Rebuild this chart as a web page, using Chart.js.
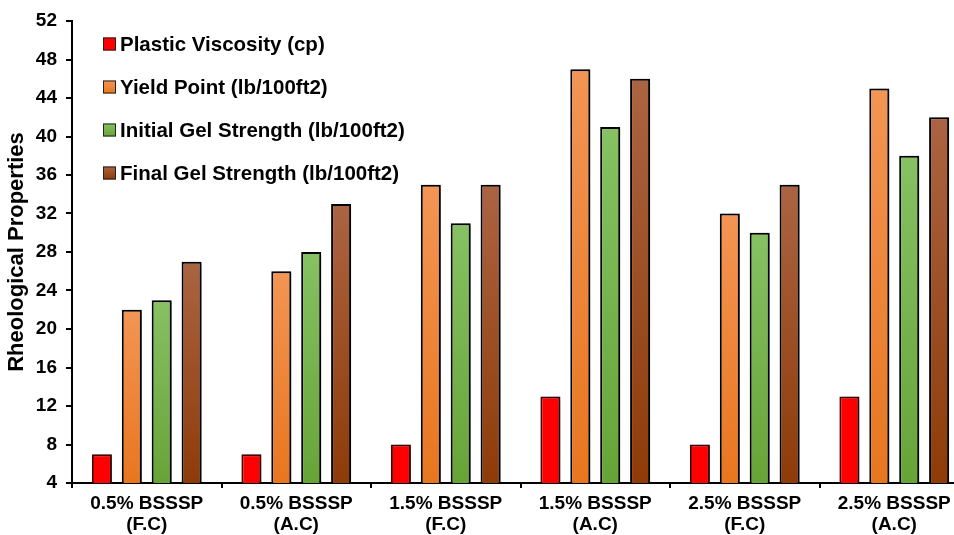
<!DOCTYPE html>
<html>
<head>
<meta charset="utf-8">
<script src="https://cdn.jsdelivr.net/npm/chart.js@4"></script>
<style>
  html, body { margin: 0; padding: 0; background: #fff; overflow: hidden; }
  #wrap { width: 975px; height: 535px; position: relative; }
</style>
</head>
<body>
<div id="wrap"><canvas id="chart"></canvas></div>
<script>
// Drilling fluid samples (BSSSP additive, two curing conditions)
const categories = [
  ["0.5% BSSSP", "(F.C)"],
  ["0.5% BSSSP", "(A.C)"],
  ["1.5% BSSSP", "(F.C)"],
  ["1.5% BSSSP", "(A.C)"],
  ["2.5% BSSSP", "(F.C)"],
  ["2.5% BSSSP", "(A.C)"]
];

const seriesNames = [
  "Plastic Viscosity (cp)",
  "Yield Point (lb/100ft2)",
  "Initial Gel Strength (lb/100ft2)",
  "Final Gel Strength (lb/100ft2)"
];

const plasticViscosity   = [7, 7, 8, 13, 8, 13];
const yieldPoint         = [22, 26, 35, 47, 32, 45];
const initialGelStrength = [23, 28, 31, 41, 30, 38];
const finalGelStrength   = [27, 33, 35, 46, 35, 42];

const yMin = 4;
const yMax = 52;
const yStep = 4;

// [top colour, bottom colour] of each bar's vertical gradient
const fills = [
  ["#ff0000", "#ff0000"],
  ["#f39554", "#e8761f"],
  ["#86c163", "#67a437"],
  ["#ab6442", "#8e3b08"]
];

const FONT = "'Liberation Sans', Arial, sans-serif";

function barGradient(pair) {
  return (ctx) => {
    const chart = ctx.chart;
    if (!chart.chartArea || ctx.raw === undefined) return pair[1];
    const y = chart.scales.y;
    const top = y.getPixelForValue(ctx.raw);
    const base = y.getPixelForValue(yMin);
    if (!isFinite(top) || !isFinite(base) || top === base) return pair[1];
    const g = chart.ctx.createLinearGradient(0, top, 0, base);
    g.addColorStop(0, pair[0]);
    g.addColorStop(1, pair[1]);
    return g;
  };
}

const seriesValues = [plasticViscosity, yieldPoint, initialGelStrength, finalGelStrength];

const datasets = seriesValues.map((vals, i) => ({
  label: seriesNames[i],
  data: vals,
  backgroundColor: barGradient(fills[i]),
  borderColor: i === 0 ? "#4a0000" : "#000",
  borderWidth: 2,
  borderSkipped: false,
  categoryPercentage: 0.8,
  barPercentage: 0.67
}));

// soft drop shadow behind the bars
const barShadow = {
  id: "barShadow",
  beforeDatasetsDraw(chart) {
    const c = chart.ctx;
    c.save();
    c.shadowColor = "rgba(0,0,0,0.4)";
    c.shadowBlur = 6;
    c.shadowOffsetX = 5;
    c.shadowOffsetY = 1;
  },
  afterDatasetsDraw(chart) {
    chart.ctx.restore();
  }
};

// legend stacked inside the plot area, top-left
const innerLegend = {
  id: "innerLegend",
  afterDraw(chart) {
    const c = chart.ctx;
    const area = chart.chartArea;
    const x0 = area.left + 31;
    const y0 = area.top + 23;
    const rowGap = 43;
    const box = 13;
    c.save();
    c.font = "bold 20.5px " + FONT;
    c.textBaseline = "middle";
    c.textAlign = "left";
    chart.data.datasets.forEach((ds, i) => {
      const cy = y0 + i * rowGap;
      const g = c.createLinearGradient(0, cy - box / 2, 0, cy + box / 2);
      g.addColorStop(0, fills[i][0]);
      g.addColorStop(1, fills[i][1]);
      c.fillStyle = g;
      c.fillRect(x0, cy - box / 2, box, box);
      c.lineWidth = 1;
      c.strokeStyle = "#222";
      c.strokeRect(x0 + 0.5, cy - box / 2 + 0.5, box - 1, box - 1);
      c.fillStyle = "#000";
      c.fillText(ds.label, x0 + box + 4, cy + 1);
    });
    c.restore();
  }
};

new Chart(document.getElementById("chart"), {
  type: "bar",
  data: { labels: categories, datasets },
  plugins: [barShadow, innerLegend],
  options: {
    responsive: true,
    maintainAspectRatio: false,
    animation: false,
    layout: { padding: { top: 21, right: 6, left: 0, bottom: 0 } },
    plugins: {
      legend: { display: false },
      tooltip: { enabled: false }
    },
    scales: {
      x: {
        offset: true,
        grid: {
          offset: true,
          drawOnChartArea: false,
          drawTicks: true,
          tickLength: 5,
          color: "#000",
          lineWidth: 2
        },
        border: { color: "#000", width: 2 },
        ticks: {
          color: "#000",
          padding: 5,
          maxRotation: 0,
          autoSkip: false,
          font: { family: FONT, size: 19, weight: "bold", lineHeight: 1.1 }
        },
        afterFit(scale) { scale.height = 52; }
      },
      y: {
        min: yMin,
        max: yMax,
        grid: {
          drawOnChartArea: false,
          drawTicks: true,
          tickLength: 6,
          color: "#000",
          lineWidth: 2
        },
        border: { color: "#000", width: 2 },
        ticks: {
          stepSize: yStep,
          color: "#000",
          padding: 9,
          font: { family: FONT, size: 19, weight: "bold" }
        },
        title: {
          display: true,
          text: "Rheological Properties",
          color: "#000",
          padding: { top: 4, bottom: 0 },
          font: { family: FONT, size: 22, weight: "bold" }
        },
        afterFit(scale) { scale.width = 72; }
      }
    }
  }
});
</script>
</body>
</html>
